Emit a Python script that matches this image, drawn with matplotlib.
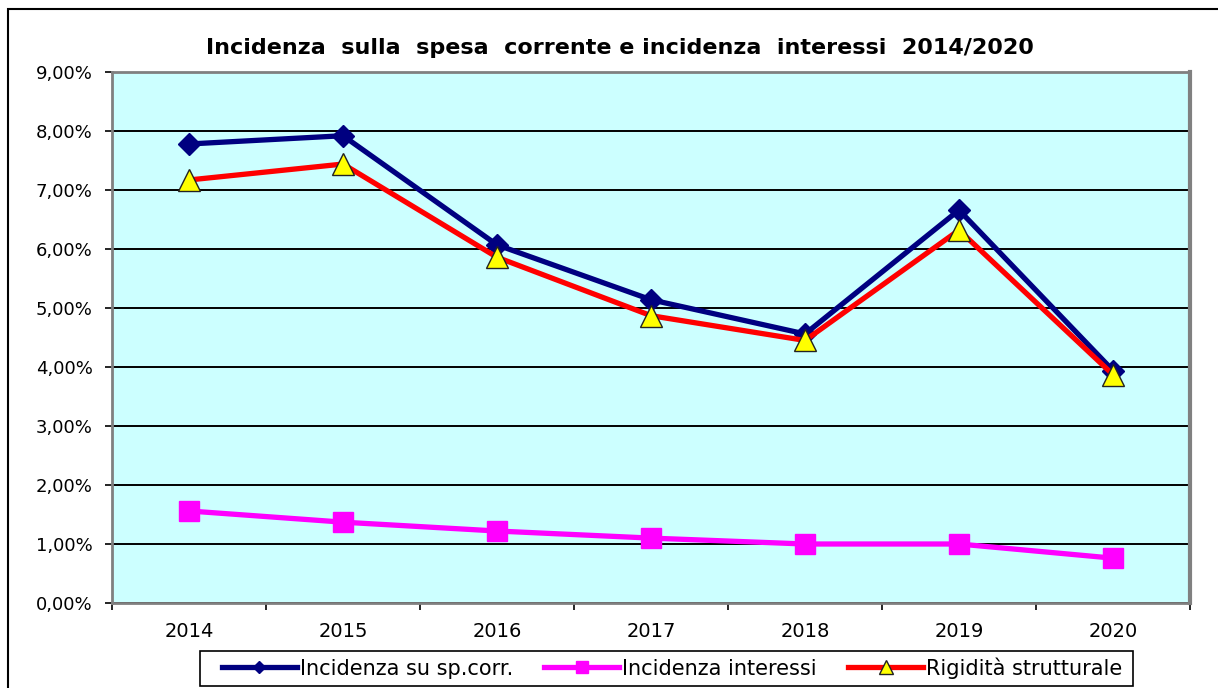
import matplotlib.pyplot as plt
import matplotlib.ticker as mticker
from matplotlib.patches import Rectangle

years = ['2014', '2015', '2016', '2017', '2018', '2019', '2020']
incidenza_spesa = [7.78, 7.92, 6.07, 5.14, 4.56, 6.66, 3.94]
incidenza_interessi = [1.56, 1.37, 1.22, 1.10, 1.00, 1.00, 0.76]
rigidita = [7.17, 7.44, 5.86, 4.87, 4.45, 6.32, 3.87]

plt.rcParams['font.family'] = ['DejaVu Sans']

W, H = 1218, 688
fig = plt.figure(figsize=(W / 100, H / 100), dpi=100)
ax = fig.add_axes([112 / W, 1 - 603 / H, 1078 / W, 531 / H])
ax.set_facecolor('#CCFFFF')

x = range(len(years))
ax.plot(x, incidenza_spesa, color='#000080', lw=3.8, marker='D', ms=11,
        mec='#000080', mfc='#000080', zorder=5, label='Incidenza su sp.corr.')
ax.plot(x, incidenza_interessi, color='#FF00FF', lw=3.8, marker='s', ms=15,
        mec='#FF00FF', mfc='#FF00FF', zorder=5, label='Incidenza interessi')
ax.plot(x, rigidita, color='#FF0000', lw=3.8, marker='^', ms=16,
        mec='#222222', mfc='#FFFF00', mew=1, zorder=6, label='Rigidità strutturale')

ax.set_xlim(-0.5, 6.5)
ax.set_ylim(0, 9)
ax.yaxis.set_major_locator(mticker.MultipleLocator(1))
ax.yaxis.set_major_formatter(mticker.FuncFormatter(lambda v, p: ('%.2f%%' % v).replace('.', ',')))
ax.grid(axis='y', color='black', lw=1.4, zorder=1)
ax.set_axisbelow(True)

ax.set_xticks(list(x))
ax.set_xticklabels(years)
ax.xaxis.set_minor_locator(mticker.FixedLocator([i + 0.5 for i in range(-1, 7)]))
ax.tick_params(axis='x', which='major', length=0, pad=14, labelsize=14)
ax.tick_params(axis='x', which='minor', length=5, width=1.2, direction='out')
ax.tick_params(axis='y', length=5, width=1.2, direction='out', pad=9, labelsize=13)

for s in ['top', 'left', 'right', 'bottom']:
    ax.spines[s].set_color('#808080')
    ax.spines[s].set_linewidth(2)
ax.spines['right'].set_linewidth(3)

fig.text(620 / W, 1 - 48 / H,
         'Incidenza  sulla  spesa  corrente e incidenza  interessi  2014/2020',
         ha='center', va='center', fontsize=16, fontweight='bold')

leg = fig.legend(loc='center', bbox_to_anchor=(672 / W, 1 - 668 / H), ncol=3,
                 frameon=False, handlelength=3.6, handletextpad=0.15,
                 columnspacing=1.5, borderpad=0.3, markerscale=0.6,
                 prop={'size': 15})

# legend box
fig.patches.append(Rectangle((200 / W, 1 - 686 / H), 933 / W, 35 / H,
                             transform=fig.transFigure, fill=False,
                             edgecolor='black', lw=1.2))
# outer frame
fig.patches.append(Rectangle((8 / W, -0.05), 1.1, 1.05 - 9 / H,
                             transform=fig.transFigure, fill=False,
                             edgecolor='black', lw=1.5))

fig.savefig('out.png', dpi=100)
